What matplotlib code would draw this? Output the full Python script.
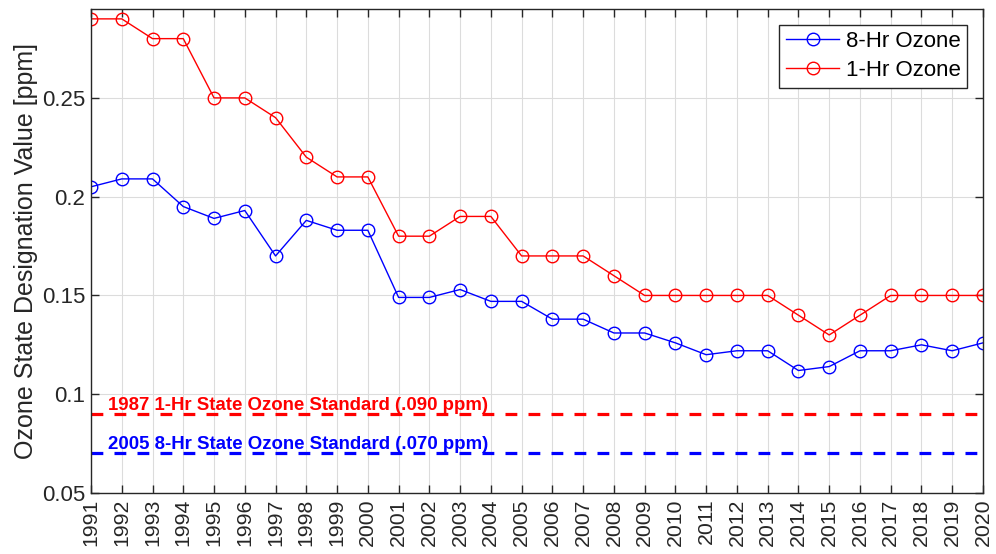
import matplotlib
matplotlib.use("Agg")
import matplotlib.pyplot as plt

years = list(range(1991, 2021))
ozone_8hr = [0.205, 0.209, 0.209, 0.195, 0.189, 0.193, 0.170, 0.188, 0.183, 0.183,
             0.149, 0.149, 0.153, 0.147, 0.147, 0.138, 0.138, 0.131, 0.131, 0.126,
             0.120, 0.122, 0.122, 0.112, 0.114, 0.122, 0.122, 0.125, 0.122, 0.126]
ozone_1hr = [0.29, 0.29, 0.28, 0.28, 0.25, 0.25, 0.24, 0.22, 0.21, 0.21,
             0.18, 0.18, 0.19, 0.19, 0.17, 0.17, 0.17, 0.16, 0.15, 0.15,
             0.15, 0.15, 0.15, 0.14, 0.13, 0.14, 0.15, 0.15, 0.15, 0.15]
std_1hr = 0.090
std_8hr = 0.070
std_1hr_label = "1987 1-Hr State Ozone Standard (.090 ppm)"
std_8hr_label = "2005 8-Hr State Ozone Standard (.070 ppm)"
yticks = [0.05, 0.1, 0.15, 0.2, 0.25]
ytick_labels = ["0.05", "0.1", "0.15", "0.2", "0.25"]

plt.rcParams['font.family'] = ['Liberation Sans', 'DejaVu Sans']
fig = plt.figure(figsize=(9.96, 5.54), dpi=100)
ax = fig.add_axes([91/996, 1-493/554, (983-91)/996, (493-9)/554])

grey = '#262626'
ax.plot(years, ozone_8hr, color='blue', marker='o', mfc='none', ms=9, lw=1, mew=1,
        label='8-Hr Ozone')
ax.plot(years, ozone_1hr, color='red', marker='o', mfc='none', ms=9, lw=1, mew=1,
        label='1-Hr Ozone')
ax.axhline(std_1hr, color='red', lw=2.3, ls=(0, (3.7, 3.5)))
ax.axhline(std_8hr, color='blue', lw=2.3, ls=(0, (3.7, 3.5)))
ax.text(1991.55, std_1hr + 0.0022, std_1hr_label, color='red', fontsize=13.4,
        fontweight='bold', va='baseline', ha='left')
ax.text(1991.55, std_8hr + 0.0022, std_8hr_label, color='blue', fontsize=13.4,
        fontweight='bold', va='baseline', ha='left')

ax.set_xlim(1991, 2020)
ax.set_ylim(0.05, 0.295)
ax.set_xticks(years)
ax.set_xticklabels([str(y) for y in years], rotation=90, fontsize=15.3, color=grey)
ax.set_yticks(yticks)
ax.set_yticklabels(ytick_labels, fontsize=16, color=grey)
ax.set_ylabel('Ozone State Designation Value [ppm]', fontsize=18, color=grey, labelpad=3)
ax.grid(True, color='#dcdcdc', lw=0.8)
ax.set_axisbelow(True)
ax.tick_params(direction='in', top=True, right=True, length=6, width=1, colors=grey,
               pad=4)
for s in ax.spines.values():
    s.set_color(grey)
    s.set_linewidth(1)

leg = ax.legend(loc='upper right', fontsize=16, frameon=True, fancybox=False,
                edgecolor=grey, framealpha=1, handlelength=2.4, borderpad=0.3,
                labelspacing=0.35, handletextpad=0.3, borderaxespad=0.7)
leg.get_frame().set_linewidth(1)

fig.savefig('out.png', dpi=100)
